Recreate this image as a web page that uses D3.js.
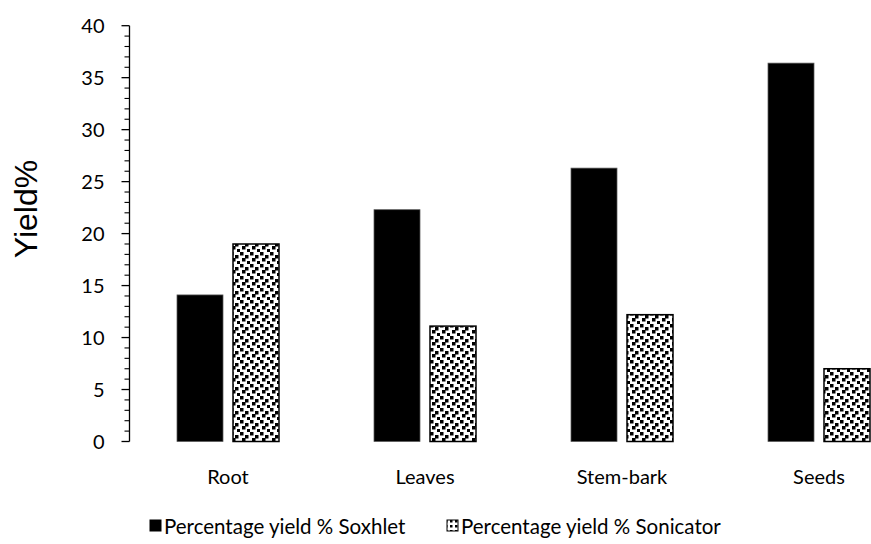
<!DOCTYPE html>
<html><head><meta charset="utf-8">
<script src="https://cdn.jsdelivr.net/npm/d3@7"></script>
<style>body{margin:0;background:#fff}svg{display:block}</style>
</head><body>
<script>
const categories = ["Root", "Leaves", "Stem-bark", "Seeds"];
const soxhlet = [14.1, 22.3, 26.3, 36.4];
const sonicator = [19.0, 11.1, 12.2, 7.0];
const seriesNames = ["Percentage yield % Soxhlet", "Percentage yield % Sonicator"];
const yTicks = [0, 5, 10, 15, 20, 25, 30, 35, 40];

const W = 871, H = 544;
const svg = d3.select("body").append("svg").attr("width", W).attr("height", H);
const defs = svg.append("defs");
const pat = defs.append("pattern").attr("id", "conf").attr("patternUnits", "userSpaceOnUse")
  .attr("width", 10).attr("height", 12);
pat.append("rect").attr("width", 10).attr("height", 12).attr("fill", "#fff");
[[0,0],[5,3],[2,6],[7,9]].forEach(r =>
  pat.append("rect").attr("x", r[0]).attr("y", r[1]).attr("width", 3.5).attr("height", 3.5).attr("fill", "#000"));
const pat2 = defs.append("pattern").attr("id", "confL").attr("patternUnits", "userSpaceOnUse")
  .attr("width", 5).attr("height", 5);
pat2.append("rect").attr("width", 5).attr("height", 5).attr("fill", "#fff");
pat2.append("rect").attr("width", 2.5).attr("height", 2.5).attr("fill", "#000");

const font = "Lato, 'Open Sans', sans-serif";
const x0 = 129.5, step = 197;
const x = d3.scaleBand().domain(categories).range([x0, x0 + step * categories.length]).paddingInner(0).paddingOuter(0);
const y = d3.scaleLinear().domain([0, 40]).range([441.5, 25.7]);
const barW = 46, gap = 10;

const g = svg.append("g");
categories.forEach((c, i) => {
  const cx = x(c) + x.bandwidth() / 2;
  g.append("rect").attr("x", cx - gap / 2 - barW).attr("y", y(soxhlet[i]))
    .attr("width", barW).attr("height", y(0) - y(soxhlet[i]))
    .attr("fill", "#000").attr("stroke", "#595959").attr("stroke-width", 0.75);
  g.append("rect").attr("x", cx + gap / 2).attr("y", y(sonicator[i]))
    .attr("width", barW).attr("height", y(0) - y(sonicator[i]))
    .attr("fill", "url(#conf)").attr("stroke", "#000").attr("stroke-width", 1.5);
});

// y axis
const minor = d3.range(0, 41, 1).filter(v => v % 5 !== 0);
const ax = svg.append("g").attr("transform", `translate(${x0},0)`);
ax.append("line").attr("x1", 0).attr("x2", 0).attr("y1", y(0)).attr("y2", y(40)).attr("stroke", "#000").attr("stroke-width", 1.3);
ax.selectAll(".mj").data(yTicks).join("line").attr("x1", -8).attr("x2", 0)
  .attr("y1", d => y(d)).attr("y2", d => y(d)).attr("stroke", "#000").attr("stroke-width", 1.3);
ax.selectAll(".mn").data(minor).join("line").attr("x1", -5).attr("x2", 0)
  .attr("y1", d => y(d)).attr("y2", d => y(d)).attr("stroke", "#000").attr("stroke-width", 1.1);
ax.selectAll(".tl").data(yTicks).join("text").attr("x", -25).attr("y", d => y(d))
  .attr("dy", "0.36em").attr("text-anchor", "end").attr("font-family", font).attr("font-size", 20)
  .attr("fill", "#000").text(d => d);

// x labels
svg.selectAll(".xl").data(categories).join("text")
  .attr("x", d => x(d) + x.bandwidth() / 2).attr("y", 484)
  .attr("text-anchor", "middle").attr("font-family", font).attr("font-size", 20).attr("fill", "#000").text(d => d);

// y title
svg.append("text").attr("transform", "translate(37,209) rotate(-90)")
  .attr("text-anchor", "middle").attr("font-family", "'Liberation Sans', Arial, sans-serif")
  .attr("font-size", 32).attr("fill", "#000").text("Yield%");

// legend
const leg = [{x: 150, fill: "#000"}, {x: 447, fill: "url(#confL)"}];
leg.forEach((l, i) => {
  svg.append("rect").attr("x", l.x).attr("y", 520).attr("width", 11).attr("height", 11)
    .attr("fill", l.fill).attr("stroke", "#000").attr("stroke-width", 1);
  svg.append("text").attr("x", l.x + 14).attr("y", 534).attr("font-family", font)
    .attr("font-size", 20.5).attr("fill", "#000").text(seriesNames[i]);
});
</script>
</body></html>
